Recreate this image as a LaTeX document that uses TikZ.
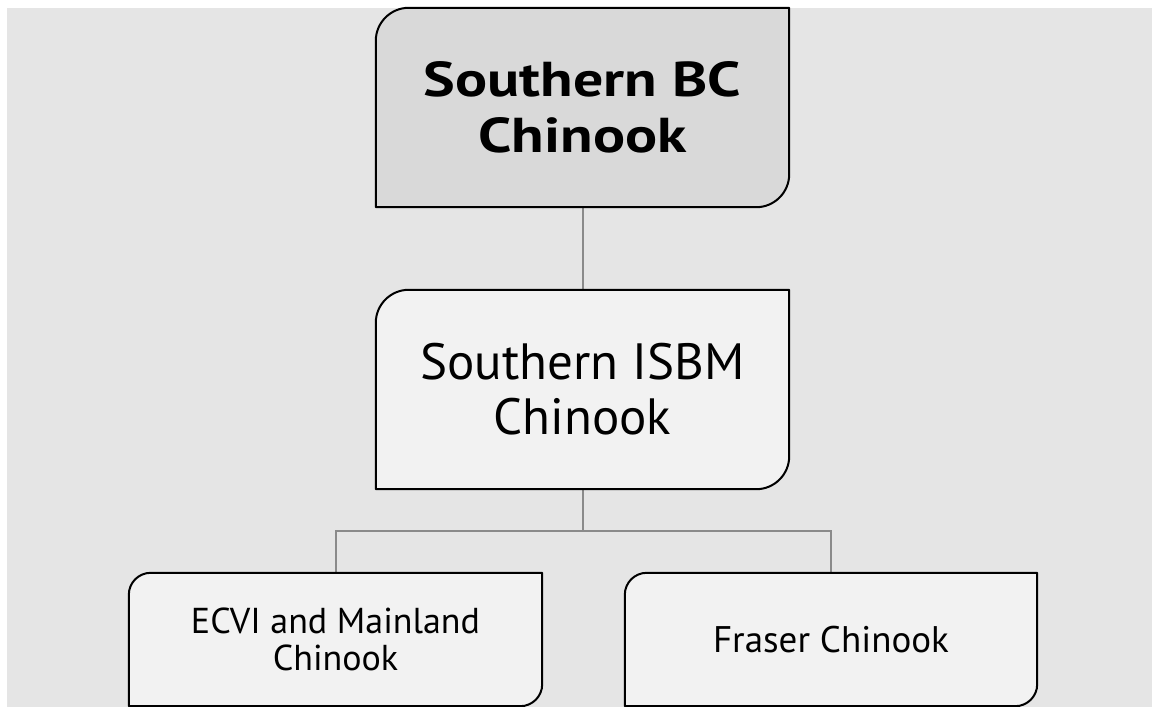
\documentclass[tikz,border=0pt]{standalone}
\usepackage{fontspec}
\setmainfont{PT Sans}
\newfontfamily\boldwide{PT Sans}[FakeStretch=1.22]
\usetikzlibrary{backgrounds}
\definecolor{bggray}{HTML}{E5E5E5}
\definecolor{topfill}{HTML}{D9D9D9}
\definecolor{boxfill}{HTML}{F2F2F2}
\definecolor{conngray}{HTML}{8A8A8A}
\tikzset{
  boxnode/.style={inner sep=0pt, align=center, text=black},
  bigbox/.style={boxnode, minimum width=413pt, minimum height=199pt},
  smallbox/.style={boxnode, minimum width=412pt, minimum height=133pt},
  boxline/.style={draw=black, line width=2pt, line join=round},
  conn/.style={draw=conngray, line width=2pt},
}
\newcommand{\diagbox}[3]{% name, radius, fill
  \path[boxline, fill=#3] ([yshift=-#2]#1.north west) arc[start angle=180, end angle=90, radius=#2]
    -- (#1.north east) -- ([yshift=#2]#1.south east) arc[start angle=0, end angle=-90, radius=#2]
    -- (#1.south west) -- cycle;}
\begin{document}
\begin{tikzpicture}
\useasboundingbox (0pt,0pt) rectangle (1152pt,-707pt);
\node[bigbox, font={\boldwide\bfseries\fontsize{49}{56}\selectfont}] (top) at (582.5pt,-107.5pt) {Southern BC\\Chinook};
\node[bigbox, font={\fontsize{51}{55}\selectfont}] (mid) at (582.5pt,-389.5pt) {Southern ISBM\\Chinook};
\node[smallbox, minimum width=413pt, font={\fontsize{36}{37}\selectfont}] (bl) at (335.5pt,-639.5pt) {ECVI and Mainland\\Chinook};
\node[smallbox, font={\fontsize{37}{37}\selectfont}] (br) at (831pt,-639.5pt) {Fraser Chinook};
\begin{scope}[on background layer]
  \fill[bggray] (7pt,-8pt) rectangle (1152pt,-707pt);
  \coordinate (junction) at ([yshift=-42pt]mid.south);
  \draw[conn] (top.south) -- (mid.north);
  \draw[conn] (mid.south) -- (junction) -| (bl.north);
  \draw[conn] (junction) -| (br.north);
  \diagbox{top}{33pt}{topfill}
  \diagbox{mid}{33pt}{boxfill}
  \diagbox{bl}{22pt}{boxfill}
  \diagbox{br}{22pt}{boxfill}
\end{scope}
\end{tikzpicture}
\end{document}
